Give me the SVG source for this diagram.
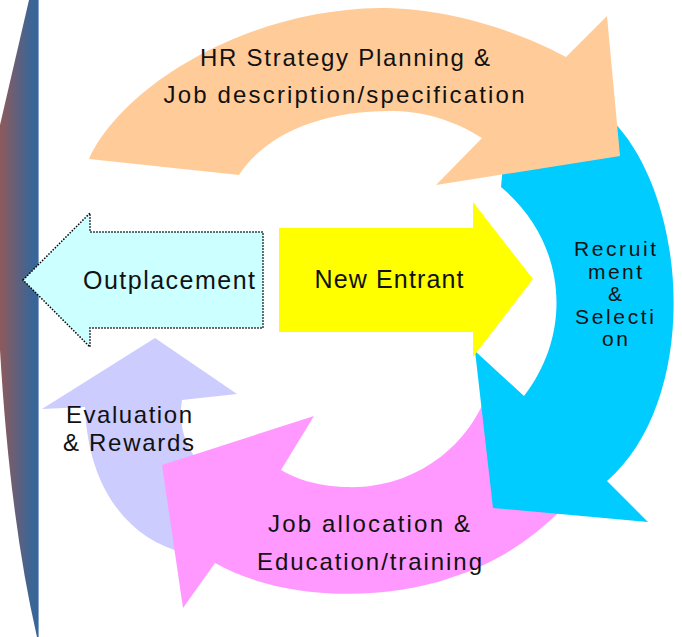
<svg xmlns="http://www.w3.org/2000/svg" width="682" height="637" viewBox="0 0 682 637">
<defs>
<linearGradient id="barGrad" gradientUnits="userSpaceOnUse" x1="0" y1="0" x2="32" y2="0">
<stop offset="0" stop-color="#8E5A5B"/>
<stop offset="1" stop-color="#3A6597"/>
</linearGradient>
</defs>
<style>
text{font-family:"Liberation Sans",Arial,sans-serif;fill:#111;text-anchor:middle;}
.t24{font-size:24px;}
.t25{font-size:25px;}
.t21{font-size:21px;}
</style>
<rect width="682" height="637" fill="#fff"/>
<g id="side-bar">
<path d="M29,0 L38,0 L38,637 L37,637 Q10,520 0,350 L0,125 Z" fill="url(#barGrad)"/>
<line x1="38.5" y1="0" x2="38.5" y2="637" stroke="#86A4CC" stroke-width="1"/>
</g>
<g id="outplacement">
<path d="M23,280 L90,213 L90,232 L263,232 L263,328 L90,328 L90,347 Z" fill="#CCFFFF" stroke="#000" stroke-width="1.5" stroke-dasharray="1.5 1.5"/>
<text class="t25" x="169" y="289" textLength="172" lengthAdjust="spacing">Outplacement</text>
</g>
<g id="evaluation-rewards">
<path d="M42,409 L155,338 L237,394 L182,400 C178,425 185,450 205,468 L230,480 L200,565 L185,553 C130,540 88,490 85,407 Z" fill="#CCCCFF"/>
<text class="t24" x="129" y="423" textLength="126" lengthAdjust="spacing">Evaluation</text>
<text class="t24" x="128.5" y="451" textLength="131" lengthAdjust="spacing">&amp; Rewards</text>
</g>
<g id="job-allocation">
<path d="M490,385 C470,450 410,490 345,487 C315,486 295,478 281,470 L314,416 L162,465 L183,608 L215,563 C280,600 380,602 450,578 C500,562 540,535 575,495 Z" fill="#FF99FF"/>
<text class="t24" x="369" y="532" textLength="202" lengthAdjust="spacing">Job allocation &amp;</text>
<text class="t24" x="369.5" y="570" textLength="225" lengthAdjust="spacing">Education/training</text>
</g>
<g id="recruitment-selection">
<path d="M503,165 L612,120 C690,200 700,400 607,481 L648,522 L493,508 L475,351 L524,396 C575,330 565,240 501,187 Z" fill="#00CCFF"/>
<text class="t21" x="615" y="256" textLength="82" lengthAdjust="spacing">Recruit</text>
<text class="t21" x="615" y="278.5" textLength="54" lengthAdjust="spacing">ment</text>
<text class="t21" x="615" y="301">&amp;</text>
<text class="t21" x="614.5" y="323.5" textLength="79" lengthAdjust="spacing">Selecti</text>
<text class="t21" x="615" y="346" textLength="26" lengthAdjust="spacing">on</text>
</g>
<g id="new-entrant">
<path d="M279,228 L473,228 L473,202 L533,279 L473,357 L473,332 L279,332 Z" fill="#FFFF00"/>
<text class="t25" x="389" y="288" textLength="149" lengthAdjust="spacing">New Entrant</text>
</g>
<g id="hr-strategy">
<path d="M89,159 C120,90 240,10 380,8 C450,8 520,32 566,57 L607,16 L620,156 L436,185 L482,138 C450,118 420,111 390,111 C320,111 265,135 239,175 Z" fill="#FFCC99"/>
<text class="t24" x="345" y="66" textLength="290" lengthAdjust="spacing">HR Strategy Planning &amp;</text>
<text class="t24" x="344" y="103" textLength="361" lengthAdjust="spacing">Job description/specification</text>
</g>
</svg>
